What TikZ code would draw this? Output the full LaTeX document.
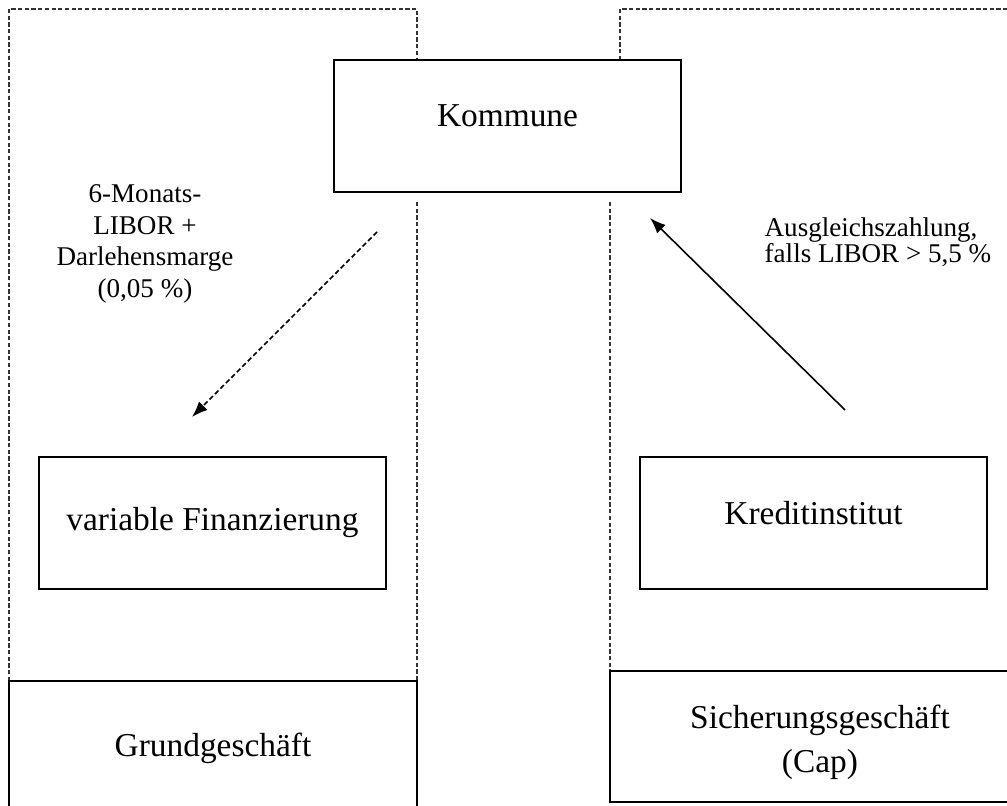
\documentclass[tikz,border=0pt]{standalone}
\usepackage{fontspec}
\setmainfont{Liberation Serif}
\usetikzlibrary{arrows.meta}

\begin{document}
\begin{tikzpicture}[>={Latex[length=4.5pt,width=3.4pt]},
        box/.style={draw,line width=0.45pt,minimum width=3.47cm,minimum height=1.32cm,
            inner sep=0pt,font=\fontsize{9.5}{12.5}\selectfont},
        frame/.style={draw=black!80,line width=0.4pt,dash pattern=on 1.2pt off 0.7pt},
        flow/.style={inner sep=0pt,font=\fontsize{7.7}{9}\selectfont}]
            \useasboundingbox (0cm,0cm) rectangle (10.07cm,8.05cm);
            \clip (0cm,0cm) rectangle (10.07cm,8.05cm);

            % draw the dashed frames
            \draw[frame] (0.09cm,1.24cm) -- (0.09cm,7.96cm) -- (4.17cm,7.96cm) -- (4.17cm,7.45cm);
            \draw[frame] (4.17cm,6.03cm) -- (4.17cm,1.24cm);
            \draw[frame] (6.20cm,7.45cm) -- (6.20cm,7.96cm) -- (10.30cm,7.96cm);
            \draw[frame] (6.10cm,6.03cm) -- (6.10cm,1.34cm);

            % draw the boxes
            \node[box,fill=white,text depth=0.2cm] (kommune) at (5.075cm,6.79cm) {Kommune};
            \node[box] (finanz) at (2.125cm,2.82cm) {variable Finanzierung};
            \node[box,text depth=0.2cm] (kredit) at (8.135cm,2.82cm) {Kreditinstitut};

            % bottom boxes
            \node[box,minimum width=4.08cm,minimum height=1.34cm] (grund) at (2.13cm,0.57cm) {Grundgeschäft};
            \node[box,minimum width=4.20cm,minimum height=1.31cm,align=center] (sicher) at (8.20cm,0.685cm)
                {\rule{0pt}{0.35cm}Sicherungsgeschäft\\(Cap)};

            % payment flows
            \coordinate (zins1) at (3.77cm,5.73cm);
            \coordinate (zins2) at (1.92cm,3.88cm);
            \draw[->,line width=0.45pt,dash pattern=on 1.4pt off 0.8pt] (zins1) -- (zins2);

            \coordinate (cap1) at (8.45cm,3.95cm);
            \coordinate (cap2) at (6.50cm,5.87cm);
            \draw[->,line width=0.45pt] (cap1) -- (cap2);

            % text at the arrows
            \node[flow,align=center] (zinstext) at (1.45cm,5.61cm)
                {6-Monats-\\LIBOR +\\Darlehensmarge\\(0,05 \%)};
            \node[flow,align=left,anchor=west,font=\fontsize{7.7}{7.4}\selectfont] (captext) at (7.64cm,5.63cm)
                {Ausgleichszahlung,\\falls LIBOR > 5,5 \%};
\end{tikzpicture}
\end{document}
